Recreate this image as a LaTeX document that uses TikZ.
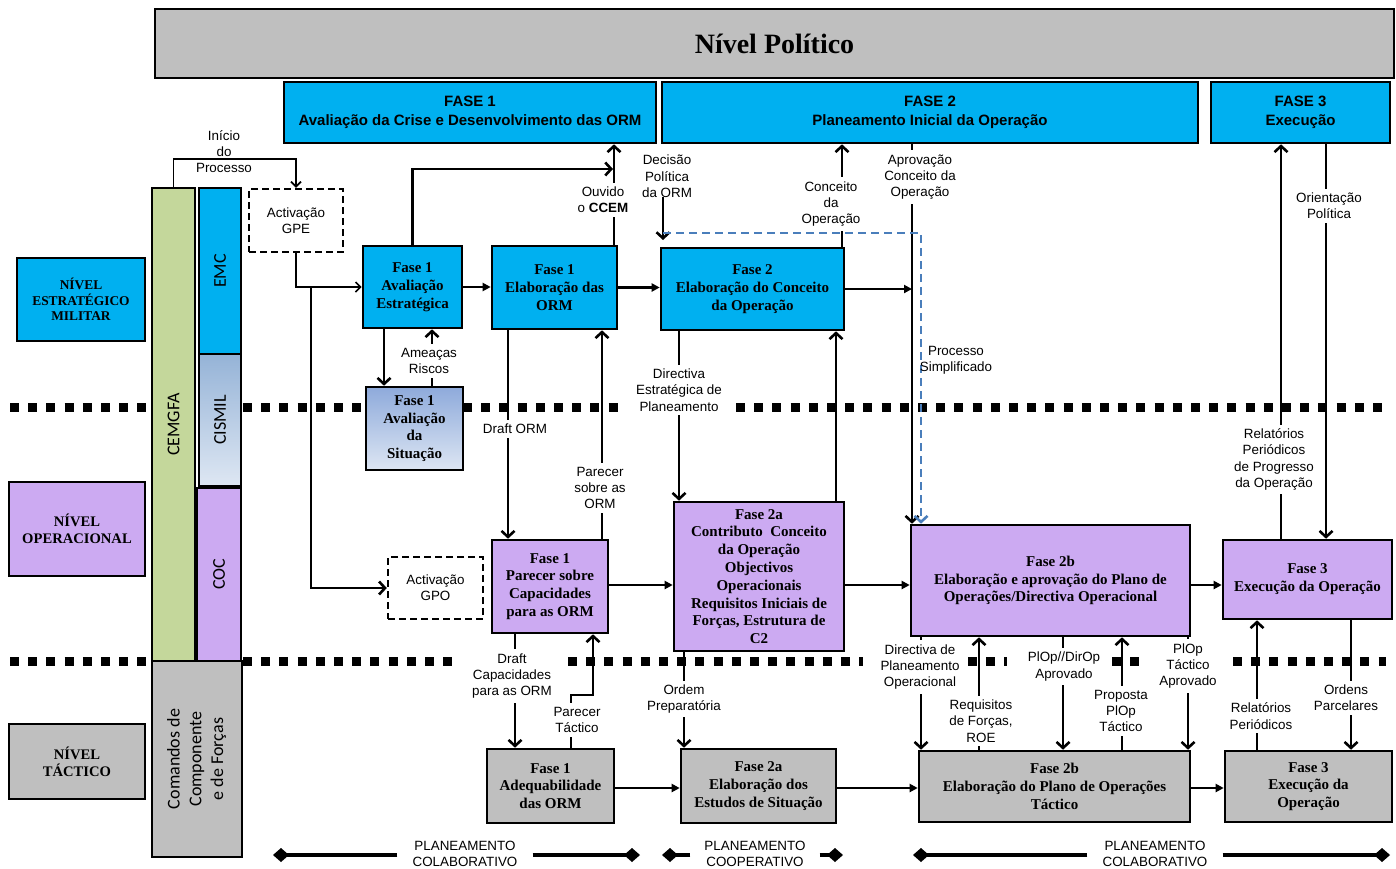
\documentclass[tikz,border=0pt]{standalone}
\usepackage{fontspec}
\usepackage{graphicx}
\setmainfont{Liberation Serif}
\setsansfont{Liberation Sans}
\newfontfamily\colfont{Carlito}
\usetikzlibrary{arrows.meta}
\definecolor{cblue}{RGB}{0,176,240}
\definecolor{cpurple}{RGB}{204,170,242}
\definecolor{cgray}{RGB}{191,191,191}
\definecolor{cgreen}{RGB}{196,215,155}
\definecolor{cdash}{RGB}{74,126,187}
\definecolor{sitTop}{RGB}{142,170,219}
\definecolor{sitBot}{RGB}{221,230,243}
\definecolor{cisTop}{RGB}{149,179,215}
\definecolor{cisBot}{RGB}{222,231,243}

\begin{document}
\begin{tikzpicture}[x=1pt,y=-1pt,
  every node/.style={inner sep=0pt},
  bx/.style={draw=black, line width=2.6pt, align=center, font=\bfseries\fontsize{15}{17.8}\selectfont},
  hdr/.style={draw=black, line width=2.6pt, fill=cblue, align=center, font=\sffamily\bfseries\fontsize{15}{19.5}\selectfont},
  lvl/.style={draw=black, line width=2.6pt, align=center, font=\bfseries\fontsize{14.6}{16.7}\selectfont},
  col/.style={draw=black, line width=2.6pt, font=\colfont\fontsize{18}{21.7}\selectfont},
  lab/.style={align=center, font=\sffamily\fontsize{13.4}{16.3}\selectfont, inner xsep=2pt, inner ysep=1.5pt},
  wlab/.style={lab, fill=white, inner ysep=4pt},
  dbox/.style={draw=black, line width=2.4pt, dash pattern=on 7pt off 4pt, fill=white, align=center, font=\sffamily\fontsize{13.4}{16.3}\selectfont},
  conn/.style={draw=black, line width=2.6pt},
  thinconn/.style={draw=black, line width=1.7pt},
  barb/.style={-{Straight Barb[length=6pt,width=13pt]}},
  thinbarb/.style={-{Straight Barb[length=5pt,width=10pt]}},
  tri/.style={-{Triangle[length=8pt,width=8pt]}},
  bluedash/.style={draw=cdash, line width=2.6pt, dash pattern=on 8pt off 5pt},
  sepline/.style={line width=9pt, dash pattern=on 9pt off 9.2pt},
  planline/.style={line width=4.5pt, -{Diamond[length=16pt,width=14pt]}},
]
\useasboundingbox (0,0) rectangle (1396,868);

% level separators
\draw[sepline] (10,407) -- (147,407);
\draw[sepline] (243,407) -- (365,407);
\draw[sepline] (463,407) -- (626,407);
\draw[sepline] (736,407) -- (1390,407);
\draw[sepline] (10,661) -- (147,661);
\draw[sepline] (243,661) -- (458,661);
\draw[sepline] (568,661) -- (863,661);
\draw[sepline] (968,661) -- (1007,661);
\draw[sepline] (1112,661) -- (1147,661);
\draw[sepline] (1233,661) -- (1386,661);

% political level and phase headers
\node[draw=black, line width=2.6pt, fill=cgray, font=\bfseries\fontsize{28}{30}\selectfont,
      minimum width=1239pt, minimum height=69pt] (npol) at (774.5,43.5) {Nível Político};
\node[hdr, minimum width=372pt, minimum height=61pt] (f1h) at (470,112.5) {FASE 1\\Avaliação da Crise e Desenvolvimento das ORM};
\node[hdr, minimum width=536pt, minimum height=61pt] (f2h) at (930,112.5) {FASE 2\\Planeamento Inicial da Operação};
\node[hdr, minimum width=179pt, minimum height=61pt] (f3h) at (1300.5,112.5) {FASE 3\\Execução};

% level titles
\node[lvl, fill=cblue, font=\bfseries\fontsize{13.4}{15.5}\selectfont, minimum width=128pt, minimum height=83pt] (lvE) at (81,299.5) {NÍVEL\\ESTRATÉGICO\\MILITAR};
\node[lvl, fill=cpurple, minimum width=136pt, minimum height=94pt] (lvO) at (77,529) {NÍVEL\\OPERACIONAL};
\node[lvl, fill=cgray, minimum width=136pt, minimum height=75pt] (lvT) at (77,761.5) {NÍVEL\\TÁCTICO};

% organisation columns
\node[col, fill=cgreen, minimum width=43pt, minimum height=473pt] (cemgfa) at (173.5,424.5) {\rotatebox{90}{CEMGFA}};
\node[col, fill=cblue, minimum width=42pt, minimum height=166pt] (emc) at (220,271) {\rotatebox{90}{EMC}};
\node[col, top color=cisTop, bottom color=cisBot, minimum width=42pt, minimum height=132pt] (cismil) at (220,420) {\rotatebox{90}{CISMIL}};
\node[col, fill=cpurple, minimum width=44pt, minimum height=173pt] (coc) at (219,574.5) {\rotatebox{90}{COC}};
\node[col, fill=cgray, minimum width=90pt, minimum height=196pt] (ccf) at (197,759)
  {\rotatebox{90}{\begin{tabular}{@{}c@{}}Comandos de\\Componente\\e de Forças\end{tabular}}};

% activation boxes
\node[dbox, minimum width=94pt, minimum height=63pt] (gpe) at (296,220.5) {Activação\\GPE};
\node[dbox, minimum width=95pt, minimum height=62pt] (gpo) at (435.5,588) {Activação\\GPO};

% strategic row
\node[bx, fill=cblue, minimum width=99pt, minimum height=82pt] (avE) at (412.5,287) {Fase 1\\Avaliação\\Estratégica};
\node[bx, fill=cblue, minimum width=125pt, minimum height=83pt] (elO) at (554.5,287.5) {Fase 1\\Elaboração das\\ORM};
\node[bx, fill=cblue, minimum width=183pt, minimum height=82pt] (conc) at (752.5,289) {Fase 2\\Elaboração do Conceito\\da Operação};
\node[bx, top color=sitTop, bottom color=sitBot, minimum width=97pt, minimum height=83pt] (avS) at (414.5,428.5) {Fase 1\\Avaliação\\da\\Situação};

% operational row
\node[bx, fill=cpurple, minimum width=116pt, minimum height=93pt] (par) at (550,586.5) {Fase 1\\Parecer sobre\\Capacidades\\para as ORM};
\node[bx, fill=cpurple, minimum width=170pt, minimum height=149pt] (f2a) at (759,576.5)
  {Fase 2a\\Contributo~ Conceito\\da Operação\\Objectivos\\Operacionais\\Requisitos Iniciais de\\Forças, Estrutura de\\C2};
\node[bx, fill=cpurple, minimum width=279pt, minimum height=111pt] (f2b) at (1050.5,580.5)
  {Fase 2b\\Elaboração e aprovação do Plano de\\Operações/Directiva Operacional};
\node[bx, fill=cpurple, minimum width=169pt, minimum height=79pt] (f3o) at (1307.5,579.5) {Fase 3\\Execução da Operação};

% tactical row
\node[bx, fill=cgray, minimum width=127pt, minimum height=74pt] (adq) at (550.5,786) {Fase 1\\Adequabilidade\\das ORM};
\node[bx, fill=cgray, minimum width=155pt, minimum height=74pt] (est) at (758.5,786) {Fase 2a\\Elaboração dos\\Estudos de Situação};
\node[bx, fill=cgray, minimum width=271pt, minimum height=71pt] (f2bt) at (1054.5,786.5) {Fase 2b\\Elaboração do Plano de Operações\\Táctico};
\node[bx, fill=cgray, minimum width=167pt, minimum height=71pt] (f3t) at (1308.5,786.5) {Fase 3\\Execução da\\Operação};

% column positions of the vertical connectors
\coordinate (kCCEM) at (614,0);
\coordinate (kAp) at (912,0);
\coordinate (kBd) at (921,0);
\coordinate (kCo) at (842,0);
\coordinate (kAS) at (384,0);
\coordinate (kAm) at (432,0);
\coordinate (kDr) at (508,0);
\coordinate (kPa) at (602,0);
\coordinate (kDE) at (679,0);
\coordinate (kUp) at (836,0);
\coordinate (kDC) at (515,0);
\coordinate (kOP) at (684,0);
\coordinate (kDO) at (921,0);
\coordinate (kRq) at (979,0);
\coordinate (kPD) at (1063,0);
\coordinate (kPr) at (1122,0);
\coordinate (kPT) at (1188,0);
\coordinate (kRP) at (1257,0);
\coordinate (kOr) at (1351,0);
\coordinate (kRG) at (1281,0);
\coordinate (kOG) at (1326,0);
\coordinate (yOp) at (0,585);
\coordinate (yTc) at (0,788);

% process start and activation
\draw[thinconn, thinbarb] (cemgfa.north) -- ++(0,-28) -| (gpe.north);
\draw[thinconn, thinbarb] (gpe.south) |- (avE.west);
\coordinate (jGPO) at (311,287);
\draw[conn, barb] (jGPO) |- (gpo.west);

% strategic level flows
\coordinate (tCCEM) at (613,169);
\draw[conn, barb] (avE.north) |- (tCCEM);
\draw[conn, barb] (elO.north -| kCCEM) -- (f1h.south -| kCCEM);
\draw[conn, tri] (avE.east) -- (elO.west |- avE.east);
\draw[conn, tri] (elO.east) -- (conc.west |- elO.east);
\draw[conn, tri] (conc.east) -- (conc.east -| kAp);
\draw[conn, barb] (f2h.south -| kAp) -- (f2b.north -| kAp);
\coordinate (dDec1) at (663,197);
\coordinate (dDec2) at (663,240);
\draw[conn, barb] (dDec1) -- (dDec2);
\coordinate (bdStart) at (663,233);
\draw[bluedash, draw=cdash, -{Straight Barb[length=6pt,width=13pt]}] (bdStart) -| (f2b.north -| kBd);
\draw[conn, barb] (conc.north -| kCo) -- (f2h.south -| kCo);
\draw[conn, barb] (avE.south -| kAS) -- (avS.north -| kAS);
\draw[conn, barb] (avS.north -| kAm) -- (avE.south -| kAm);

% strategic <-> operational
\draw[conn, barb] (elO.south -| kDr) -- (par.north -| kDr);
\draw[conn, barb] (par.north -| kPa) -- (elO.south -| kPa);
\draw[conn, barb] (conc.south -| kDE) -- (f2a.north -| kDE);
\draw[conn, barb] (f2a.north -| kUp) -- (conc.south -| kUp);

% operational row
\draw[conn, tri] (par.east |- yOp) -- (f2a.west |- yOp);
\draw[conn, tri] (f2a.east |- yOp) -- (f2b.west |- yOp);
\draw[conn, tri] (f2b.east |- yOp) -- (f3o.west |- yOp);

% operational <-> tactical
\draw[conn, barb] (par.south -| kDC) -- (adq.north -| kDC);
\coordinate (pt1) at (571,695);
\coordinate (pt2) at (593,695);
\draw[conn, barb] (adq.north -| pt1) -- (pt1) -- (pt2) -- (par.south -| pt2);
\draw[conn, barb] (f2a.south -| kOP) -- (est.north -| kOP);
\draw[conn, barb] (f2b.south -| kDO) -- (f2bt.north -| kDO);
\draw[conn, barb] (f2bt.north -| kRq) -- (f2b.south -| kRq);
\draw[conn, barb] (f2b.south -| kPD) -- (f2bt.north -| kPD);
\draw[conn, barb] (f2bt.north -| kPr) -- (f2b.south -| kPr);
\draw[conn, barb] (f2b.south -| kPT) -- (f2bt.north -| kPT);
\draw[conn, barb] (f3t.north -| kRP) -- (f3o.south -| kRP);
\draw[conn, barb] (f3o.south -| kOr) -- (f3t.north -| kOr);

% execution <-> political
\draw[conn, barb] (f3o.north -| kRG) -- (f3h.south -| kRG);
\draw[conn, barb] (f3h.south -| kOG) -- (f3o.north -| kOG);

% tactical row
\draw[conn, tri] (adq.east |- yTc) -- (est.west |- yTc);
\draw[conn, tri] (est.east |- yTc) -- (f2bt.west |- yTc);
\draw[conn, tri] (f2bt.east |- yTc) -- (f3t.west |- yTc);

% connector labels
\node[lab] (lIni) at (224,151.5) {Início\\do\\Processo};
\node[wlab] (lOuv) at (603,200) {Ouvido\\o \textbf{CCEM}};
\node[lab] (lDec) at (667,176.5) {Decisão\\Política\\da ORM};
\node[wlab] (lCon) at (831,204) {Conceito\\da\\Operação};
\node[wlab] (lApr) at (920,177) {Aprovação\\Conceito da\\Operação};
\node[lab] (lPro) at (956,360) {Processo\\Simplificado};
\node[wlab] (lAme) at (429,361) {Ameaças\\Riscos};
\node[wlab] (lDrO) at (515,429) {Draft ORM};
\node[wlab] (lPaO) at (600,488) {Parecer\\sobre as\\ORM};
\node[wlab, inner xsep=4pt] (lDiE) at (679,390) {Directiva\\Estratégica de\\Planeamento};
\node[wlab] (lOri) at (1329,206) {Orientação\\Política};
\node[wlab] (lRel) at (1274,459.5) {Relatórios\\Periódicos\\de Progresso\\da Operação};
\node[wlab] (lDrC) at (512,676) {Draft\\Capacidades\\para as ORM};
\node[wlab] (lPaT) at (577,720) {Parecer\\Táctico};
\node[wlab] (lOrd) at (684,699) {Ordem\\Preparatória};
\node[wlab] (lDiO) at (920,667) {Directiva de\\Planeamento\\Operacional};
\node[wlab] (lReq) at (981,721) {Requisitos\\de Forças,\\ROE};
\node[wlab] (lPlD) at (1064,666.5) {PlOp//DirOp\\Aprovado};
\node[wlab] (lPrp) at (1121,711) {Proposta\\PlOp\\Táctico};
\node[wlab] (lPlT) at (1188,666) {PlOp\\Táctico\\Aprovado};
\node[wlab] (lReP) at (1261,716) {Relatórios\\Periódicos};
\node[wlab] (lOrP) at (1346,698) {Ordens\\Parcelares};

% planning modes
\node[lab, inner xsep=15pt] (pA) at (465,854) {PLANEAMENTO\\COLABORATIVO};
\node[lab, inner xsep=14pt] (pB) at (755,854) {PLANEAMENTO\\COOPERATIVO};
\node[lab, inner xsep=15pt] (pC) at (1155,854) {PLANEAMENTO\\COLABORATIVO};
\coordinate (pA1) at (273,855);
\coordinate (pA2) at (640,855);
\coordinate (pB1) at (662,855);
\coordinate (pB2) at (843,855);
\coordinate (pC1) at (913,855);
\coordinate (pC2) at (1390,855);
\draw[planline] (pA.west |- pA1) -- (pA1);
\draw[planline] (pA.east |- pA2) -- (pA2);
\draw[planline] (pB.west |- pB1) -- (pB1);
\draw[planline] (pB.east |- pB2) -- (pB2);
\draw[planline] (pC.west |- pC1) -- (pC1);
\draw[planline] (pC.east |- pC2) -- (pC2);
\end{tikzpicture}
\end{document}
